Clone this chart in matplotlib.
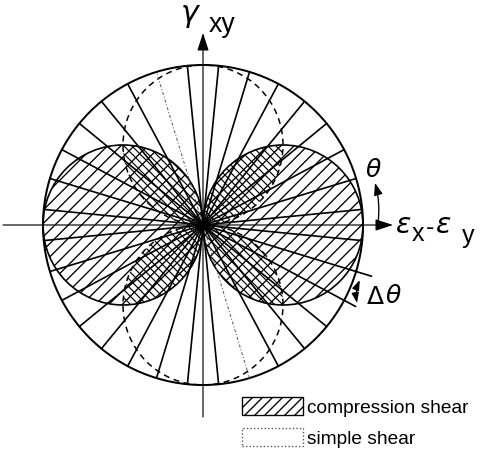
import numpy as np
import matplotlib
matplotlib.use('Agg')
import matplotlib.pyplot as plt
from matplotlib.patches import Circle, Patch
from matplotlib.collections import LineCollection

plt.rcParams['font.family'] = ['Liberation Sans', 'DejaVu Sans']
plt.rcParams['mathtext.fontset'] = 'dejavusans'
plt.rcParams['hatch.linewidth'] = 0.8

# construction lines (degrees), full diameters through the origin
line_angles = [5.6, 16.9, 28.1, 39.4, 50.6, 61.9, 73.1, 84.4,
               95.6, 106.9, 118.1, 129.4, 140.6, 151.9, 163.1, 174.4]
dotted_angle = 106.9
# the two lines bounding the delta-theta sector, drawn past the circle
ext_angles = [-16.9, -28.1]
ext_lengths = [1.10, 1.08]

outer_radius = 1.0
lobe_radius = 0.5
compression_dirs = [0, 180]   # hatched lobes
simple_dirs = [90, 270]       # dashed lobes


def lobe_center(d):
    t = np.radians(d)
    return np.array([lobe_radius * np.cos(t), lobe_radius * np.sin(t)])


def chord(c, r, k):
    # x-range where the line y = -x + k is inside the circle
    u = k - c[1]
    b = -2.0 * (c[0] + u)
    cc = c[0] ** 2 + u ** 2 - r ** 2
    disc = b * b - 8.0 * cc
    if disc <= 0:
        return None
    s = np.sqrt(disc)
    return (-b - s) / 4.0, (-b + s) / 4.0


fig = plt.figure(figsize=(4.0, 454 / 120), dpi=120)
ax = fig.add_axes([0, 0, 1, 1])
ax.set_xlim(-203 / 160, 277 / 160)
ax.set_ylim(-229 / 160, 225 / 160)
ax.axis('off')

# radial lines
for a in line_angles:
    t = np.radians(a)
    xs = [-outer_radius * np.cos(t), outer_radius * np.cos(t)]
    ys = [-outer_radius * np.sin(t), outer_radius * np.sin(t)]
    if a == dotted_angle:
        ax.plot(xs, ys, color='0.35', lw=0.6, ls=(0, (3, 2, 1, 2)))
    else:
        ax.plot(xs, ys, color='k', lw=1.0)

for a, L in zip(ext_angles, ext_lengths):
    t = np.radians(a)
    ax.plot([outer_radius * np.cos(t), L * np.cos(t)],
            [outer_radius * np.sin(t), L * np.sin(t)], color='k', lw=1.0)

ax.add_patch(Circle((0, 0), outer_radius, fill=False, color='k', lw=1.2))

# compression shear lobes
for d in compression_dirs:
    ax.add_patch(Circle(lobe_center(d), lobe_radius, facecolor='none',
                        edgecolor='k', hatch='///', lw=1.0))

# simple shear lobes: dashed outline
for d in simple_dirs:
    ax.add_patch(Circle(lobe_center(d), lobe_radius, facecolor='none',
                        edgecolor='k', lw=0.9, ls=(0, (4, 3))))

# cross hatch where simple shear and compression shear overlap
segs = []
for d in simple_dirs:
    for dc in compression_dirs:
        c1, c2 = lobe_center(d), lobe_center(dc)
        for k in np.arange(-1.0, 1.0, 0.05):
            i1 = chord(c1, lobe_radius, k)
            i2 = chord(c2, lobe_radius, k)
            if i1 is None or i2 is None:
                continue
            lo, hi = max(i1[0], i2[0]), min(i1[1], i2[1])
            if hi > lo:
                segs.append([(lo, -lo + k), (hi, -hi + k)])
ax.add_collection(LineCollection(segs, colors='k', linewidths=0.7))

ax.plot([0], [0], 'o', color='k', ms=5)

# axes with arrows
head = '-|>,head_length=0.43,head_width=0.14'
ax.annotate('', xy=(1.1875, 0), xytext=(-1.25, 0),
            arrowprops=dict(arrowstyle=head, lw=0.7, color='k',
                            mutation_scale=21, shrinkA=0, shrinkB=0))
ax.annotate('', xy=(0, 1.2), xytext=(0, -1.2),
            arrowprops=dict(arrowstyle=head, lw=0.7, color='k',
                            mutation_scale=21, shrinkA=0, shrinkB=0))

# theta arrow
ax.annotate('', xy=(1.075, 0.263), xytext=(1.094, 0.012),
            arrowprops=dict(arrowstyle='-|>,head_length=0.5,head_width=0.18',
                            lw=0.8, color='k', mutation_scale=12,
                            shrinkA=0, shrinkB=0, connectionstyle='arc3,rad=0.1'))
# delta theta arrow
ax.annotate('', xy=(0.9625, -0.4875), xytext=(0.98, -0.344),
            arrowprops=dict(arrowstyle='<|-|>,head_length=0.5,head_width=0.18',
                            lw=0.8, color='k', mutation_scale=10,
                            shrinkA=0, shrinkB=0, connectionstyle='arc3,rad=0.15'))

# labels
ax.text(-0.075, 1.306, r'$\gamma$', fontsize=18, ha='center', va='center')
ax.text(0.12, 1.25, 'xy', fontsize=16, ha='center', va='center')
ax.text(1.0625, 0.344, r'$\theta$', fontsize=15, ha='center', va='center')
ax.text(1.25, -0.006, r'$\varepsilon$', fontsize=17, ha='center', va='center')
ax.text(1.345, -0.056, 'x', fontsize=15, ha='center', va='center')
ax.text(1.42, -0.02, '-', fontsize=15, ha='center', va='center')
ax.text(1.5, -0.006, r'$\varepsilon$', fontsize=17, ha='center', va='center')
ax.text(1.66, -0.069, 'y', fontsize=15, ha='center', va='center')
ax.text(1.075, -0.45, r'$\Delta$', fontsize=15, ha='center', va='center')
ax.text(1.1875, -0.444, r'$\theta$', fontsize=15, ha='center', va='center')

handles = [Patch(facecolor='white', edgecolor='k', hatch='////', lw=0.8),
           Patch(facecolor='white', edgecolor='0.3', ls=':', lw=0.8)]
ax.legend(handles, ['compression shear', 'simple shear'], loc='upper left',
          bbox_to_anchor=(0.504, 1 - 397 / 454), frameon=False, fontsize=11.5,
          borderaxespad=0, borderpad=0, handlelength=3.2, handleheight=1.09,
          handletextpad=0.2, labelspacing=0.6)

fig.savefig('out.png', dpi=120)
